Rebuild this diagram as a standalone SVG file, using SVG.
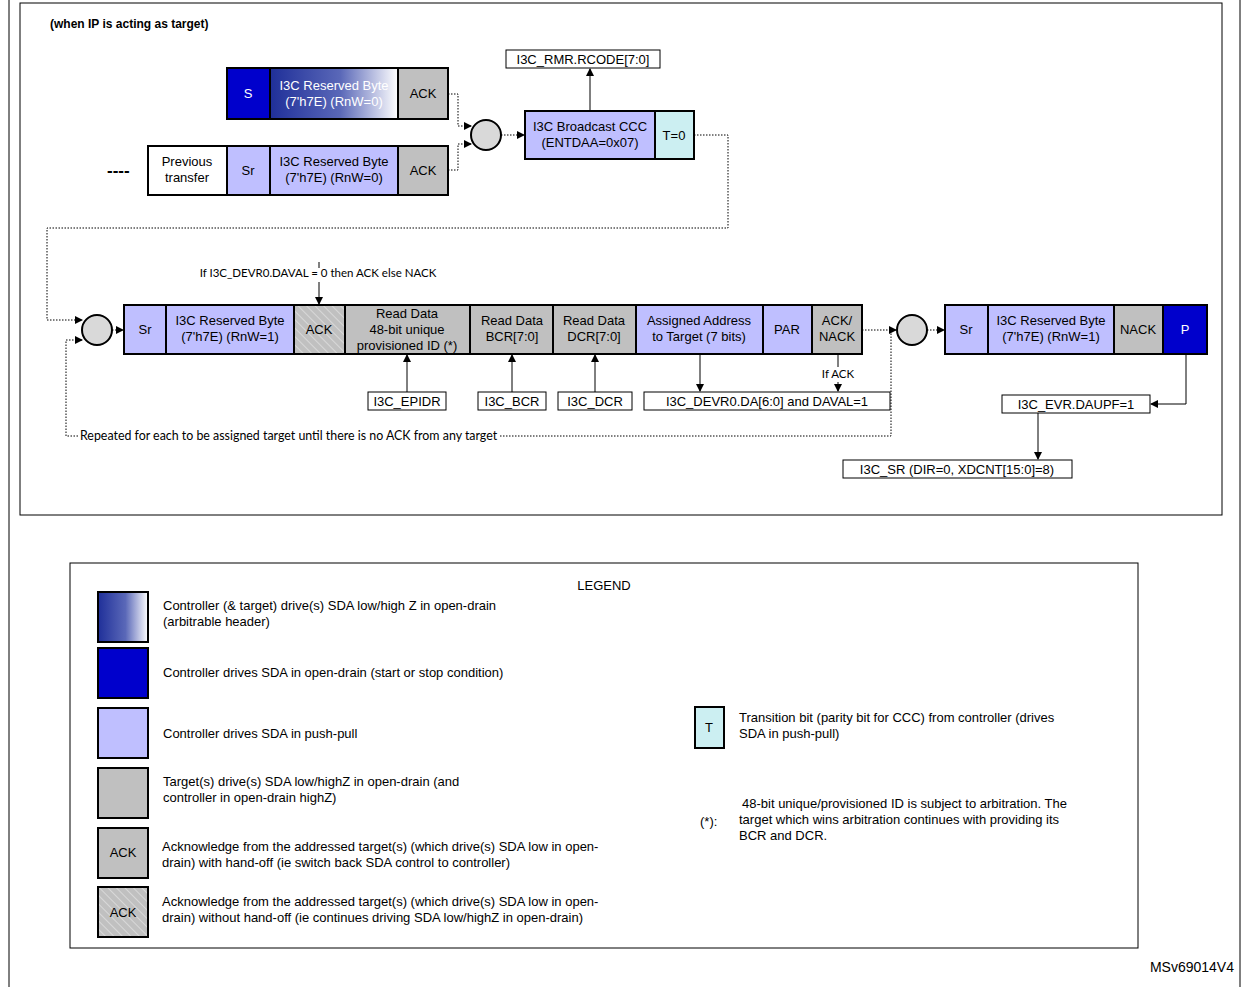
<svg xmlns="http://www.w3.org/2000/svg" width="1242" height="987" viewBox="0 0 1242 987">
<defs>
<style>
text{font-family:"Liberation Sans",Arial,sans-serif;font-size:13px;fill:#000}
.c{text-anchor:middle}
.sm{font-family:Lato,"Liberation Sans",sans-serif;font-size:11.5px}
.b{stroke:#000;stroke-width:2}
.pp{fill:#BFBFFF}
.bl{fill:#0000CC}
.gr{fill:#C0C0C0}
.wh{fill:#fff}
.t{fill:#CCEFF2}
.reg{fill:#fff;stroke:#000;stroke-width:1}
.ln{stroke:#000;stroke-width:1;fill:none}
.dt{stroke:#000;stroke-width:1;fill:none;stroke-dasharray:1.5 1.5}
.cir{fill:#D9D9D9;stroke:#000;stroke-width:2}
</style>
<linearGradient id="gd" x1="0" x2="1" y1="0" y2="0"><stop offset="0" stop-color="#1F2F99"/><stop offset="0.55" stop-color="#5A68B8"/><stop offset="1" stop-color="#FFFFFF"/></linearGradient>
<pattern id="hz" width="6" height="6" patternUnits="userSpaceOnUse" patternTransform="rotate(-45)"><rect width="6" height="6" fill="#C0C0C0"/><line x1="0" y1="0" x2="0" y2="6" stroke="#E0E0E0" stroke-width="1.5"/></pattern>
<marker id="a" markerWidth="8" markerHeight="8" refX="7" refY="4" orient="auto" markerUnits="userSpaceOnUse"><path d="M0,0 L8,4 L0,8 z" fill="#000"/></marker>
</defs>
<rect x="0" y="0" width="1242" height="987" fill="#fff"/>
<path d="M9,0 V987 M1240,0 V987" class="ln"/>
<rect x="20" y="3" width="1202" height="512" fill="none" stroke="#000" stroke-width="1"/>
<text x="50" y="28" style="font-weight:bold;font-size:12px">(when IP is acting as target)</text>

<g id="row1">
<rect x="227" y="68" width="43" height="51" class="bl b"/><text x="248" y="98" class="c" style="fill:#fff">S</text>
<rect x="270" y="68" width="128" height="51" fill="url(#gd)" class="b"/><text x="334" y="90" class="c" style="fill:#fff">I3C Reserved Byte</text><text x="334" y="106" class="c" style="fill:#fff">(7'h7E) (RnW=0)</text>
<rect x="398" y="68" width="50" height="51" class="gr b"/><text x="423" y="98" class="c">ACK</text>
</g>
<g id="row2">
<text x="107" y="176" style="font-weight:bold;font-size:17px">----</text>
<rect x="148" y="146" width="79" height="49" class="wh b"/><text x="187" y="166" class="c">Previous</text><text x="187" y="182" class="c">transfer</text>
<rect x="227" y="146" width="43" height="49" class="pp b"/><text x="248" y="175" class="c">Sr</text>
<rect x="270" y="146" width="128" height="49" class="pp b"/><text x="334" y="166" class="c">I3C Reserved Byte</text><text x="334" y="182" class="c">(7'h7E) (RnW=0)</text>
<rect x="398" y="146" width="50" height="49" class="gr b"/><text x="423" y="175" class="c">ACK</text>
</g>
<g id="ccc">
<circle cx="486" cy="135" r="15" class="cir"/>
<rect x="525" y="111" width="130" height="48" class="pp b"/><text x="590" y="131" class="c">I3C Broadcast CCC</text><text x="590" y="147" class="c">(ENTDAA=0x07)</text>
<rect x="655" y="111" width="39" height="48" class="t b"/><text x="674" y="140" class="c">T=0</text>
<rect x="506" y="50" width="154" height="18" class="reg"/><text x="583" y="64" class="c">I3C_RMR.RCODE[7:0]</text>
</g>
<g id="main">
<circle cx="97" cy="330" r="15" class="cir"/>
<rect x="124" y="305" width="42" height="49" class="pp b"/><text x="145" y="334" class="c">Sr</text>
<rect x="166" y="305" width="128" height="49" class="pp b"/><text x="230" y="325" class="c">I3C Reserved Byte</text><text x="230" y="341" class="c">(7'h7E) (RnW=1)</text>
<rect x="294" y="305" width="51" height="49" fill="url(#hz)" class="b"/><text x="319" y="334" class="c">ACK</text>
<rect x="345" y="305" width="125" height="49" class="gr b"/><text x="407" y="318" class="c">Read Data</text><text x="407" y="334" class="c">48-bit unique</text><text x="407" y="350" class="c">provisioned ID (*)</text>
<rect x="470" y="305" width="83" height="49" class="gr b"/><text x="512" y="325" class="c">Read Data</text><text x="512" y="341" class="c">BCR[7:0]</text>
<rect x="553" y="305" width="83" height="49" class="gr b"/><text x="594" y="325" class="c">Read Data</text><text x="594" y="341" class="c">DCR[7:0]</text>
<rect x="636" y="305" width="127" height="49" class="pp b"/><text x="699" y="325" class="c">Assigned Address</text><text x="699" y="341" class="c">to Target (7 bits)</text>
<rect x="763" y="305" width="49" height="49" class="pp b"/><text x="787" y="334" class="c">PAR</text>
<rect x="812" y="305" width="50" height="49" class="gr b"/><text x="837" y="325" class="c">ACK/</text><text x="837" y="341" class="c">NACK</text>
<text x="318" y="277" class="c sm">If I3C_DEVR0.DAVAL = 0 then ACK else NACK</text>
<rect x="368" y="392" width="78" height="18" class="reg"/><text x="407" y="406" class="c">I3C_EPIDR</text>
<rect x="478" y="392" width="68" height="18" class="reg"/><text x="512" y="406" class="c">I3C_BCR</text>
<rect x="558" y="392" width="74" height="18" class="reg"/><text x="595" y="406" class="c">I3C_DCR</text>
<rect x="644" y="392" width="246" height="18" class="reg"/><text x="767" y="406" class="c">I3C_DEVR0.DA[6:0] and DAVAL=1</text>
<text x="838" y="378" class="c sm">If ACK</text>
<text x="80" y="440" class="sm" style="font-size:12.4px">Repeated for each to be assigned target until there is no ACK from any target</text>
</g>
<g id="end">
<circle cx="912" cy="330" r="15" class="cir"/>
<rect x="945" y="305" width="43" height="49" class="pp b"/><text x="966" y="334" class="c">Sr</text>
<rect x="988" y="305" width="126" height="49" class="pp b"/><text x="1051" y="325" class="c">I3C Reserved Byte</text><text x="1051" y="341" class="c">(7'h7E) (RnW=1)</text>
<rect x="1114" y="305" width="49" height="49" class="gr b"/><text x="1138" y="334" class="c">NACK</text>
<rect x="1163" y="305" width="44" height="49" class="bl b"/><text x="1185" y="334" class="c" style="fill:#fff">P</text>
<rect x="1002" y="395" width="148" height="18" class="reg"/><text x="1076" y="409" class="c">I3C_EVR.DAUPF=1</text>
<rect x="843" y="460" width="229" height="18" class="reg"/><text x="957" y="474" class="c">I3C_SR (DIR=0, XDCNT[15:0]=8)</text>
</g>
<g id="connectors">
<path d="M448,94 H458 V126 H471" class="dt" marker-end="url(#a)"/>
<path d="M448,170 H458 V144 H471" class="dt" marker-end="url(#a)"/>
<path d="M501,135 H524" class="dt" marker-end="url(#a)"/>
<path d="M590,111 V69" class="ln" marker-end="url(#a)"/>
<path d="M694,135 H728 V228 H47 V320 H82" class="dt" marker-end="url(#a)"/>
<path d="M112,330 H123" class="dt" marker-end="url(#a)"/>
<path d="M319,262 V268 M319,282 V304" class="ln" marker-end="url(#a)"/>
<path d="M407,392 V355" class="ln" marker-end="url(#a)"/>
<path d="M512,392 V355" class="ln" marker-end="url(#a)"/>
<path d="M595,392 V355" class="ln" marker-end="url(#a)"/>
<path d="M700,354 V391" class="ln" marker-end="url(#a)"/>
<path d="M838,354 V367" class="ln"/>
<path d="M838,382 V391" class="ln" marker-end="url(#a)"/>
<path d="M862,330 H896" class="dt" marker-end="url(#a)"/>
<path d="M927,330 H944" class="dt" marker-end="url(#a)"/>
<path d="M500,436 H891 V330" class="dt"/>
<path d="M78,436 H66 V340 H82" class="dt" marker-end="url(#a)"/>
<path d="M1186,354 V404 H1151" class="ln" marker-end="url(#a)"/>
<path d="M1038,413 V459" class="ln" marker-end="url(#a)"/>
</g>
<g id="legend">
<rect x="70" y="563" width="1068" height="385" fill="none" stroke="#000" stroke-width="1"/>
<text x="604" y="590" class="c">LEGEND</text>
<rect x="98" y="592" width="50" height="50" fill="url(#gd)" class="b"/>
<text x="163" y="610">Controller (&amp; target) drive(s) SDA low/high Z in open-drain</text><text x="163" y="626">(arbitrable header)</text>
<rect x="98" y="648" width="50" height="50" class="bl b"/>
<text x="163" y="677">Controller drives SDA in open-drain (start or stop condition)</text>
<rect x="98" y="708" width="50" height="50" class="pp b"/>
<text x="163" y="738">Controller drives SDA in push-pull</text>
<rect x="98" y="768" width="50" height="50" class="gr b"/>
<text x="163" y="786">Target(s) drive(s) SDA low/highZ in open-drain (and</text><text x="163" y="802">controller in open-drain highZ)</text>
<rect x="98" y="828" width="50" height="50" class="gr b"/><text x="123" y="857" class="c">ACK</text>
<text x="162" y="851">Acknowledge from the addressed target(s) (which drive(s) SDA low in open-</text><text x="162" y="867">drain) with hand-off (ie switch back SDA control to controller)</text>
<rect x="98" y="887" width="50" height="50" fill="url(#hz)" class="b"/><text x="123" y="917" class="c">ACK</text>
<text x="162" y="906">Acknowledge from the addressed target(s) (which drive(s) SDA low in open-</text><text x="162" y="922">drain) without hand-off (ie continues driving SDA low/highZ in open-drain)</text>
<rect x="695" y="707" width="29" height="41" class="t b"/><text x="709" y="732" class="c">T</text>
<text x="739" y="722">Transition bit (parity bit for CCC) from controller (drives</text><text x="739" y="738">SDA in push-pull)</text>
<text x="700" y="826">(*):</text>
<text x="742" y="808">48-bit unique/provisioned ID is subject to arbitration. The</text><text x="739" y="824">target which wins arbitration continues with providing its</text><text x="739" y="840">BCR and DCR.</text>
</g>
<text x="1234" y="972" style="text-anchor:end;font-size:14px">MSv69014V4</text>
</svg>
